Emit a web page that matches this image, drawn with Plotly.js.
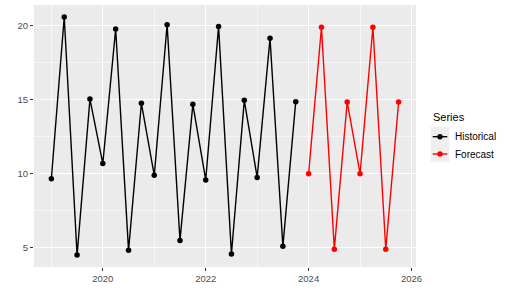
<!DOCTYPE html>
<html>
<head>
<meta charset="utf-8">
<script src="https://cdn.plot.ly/plotly-3.0.1.min.js"></script>
<style>html,body{margin:0;padding:0;background:#fff;}#chart{width:505px;height:300px;}</style>
</head>
<body>
<div id="chart"></div>
<script>
const histTime = [2019.0, 2019.25, 2019.5, 2019.75, 2020.0, 2020.25, 2020.5, 2020.75,
                  2021.0, 2021.25, 2021.5, 2021.75, 2022.0, 2022.25, 2022.5, 2022.75,
                  2023.0, 2023.25, 2023.5, 2023.75];
const histValues = [9.66, 20.59, 4.5, 15.05, 10.69, 19.78, 4.82, 14.76,
                    9.89, 20.07, 5.49, 14.69, 9.58, 19.96, 4.57, 14.96,
                    9.75, 19.15, 5.09, 14.87];
const fcTime = [2024.0, 2024.25, 2024.5, 2024.75, 2025.0, 2025.25, 2025.5, 2025.75];
const fcValues = [10.0, 19.9, 4.9, 14.85, 10.0, 19.9, 4.9, 14.85];
const seriesNames = ["Historical", "Forecast"];
const seriesColors = ["#000000", "#FF0000"];
const legendTitle = "Series";
const xTickVals = [2020, 2022, 2024, 2026];
const yTickVals = [5, 10, 15, 20];

const traces = [
  {x: histTime, y: histValues, name: seriesNames[0], type: 'scatter', mode: 'lines+markers',
   line: {color: seriesColors[0], width: 1.4}, marker: {color: seriesColors[0], size: 5.5}, showlegend: false},
  {x: fcTime, y: fcValues, name: seriesNames[1], type: 'scatter', mode: 'lines+markers',
   line: {color: seriesColors[1], width: 1.4}, marker: {color: seriesColors[1], size: 5.5}, showlegend: false}
];

const font = "Liberation Sans, Arial, sans-serif";

// legend (ggplot-style), placed in paper coordinates
const M = {l: 34, r: 89, t: 5, b: 33};
const PW = 505 - M.l - M.r, PH = 300 - M.t - M.b;
const px = v => (v - M.l) / PW;
const py = v => (300 - M.b - v) / PH;
const shapes = [
  {type: 'rect', xref: 'paper', yref: 'paper', x0: px(430.7), x1: px(449.3), y0: py(161.7), y1: py(126.7),
   fillcolor: '#efefef', line: {width: 0}, layer: 'above'}
];
const annotations = [
  {xref: 'paper', yref: 'paper', x: px(431), y: py(117.3), xanchor: 'left', yanchor: 'middle',
   text: legendTitle, showarrow: false, font: {family: font, size: 11, color: '#000000'}}
];
const itemY = [136.7, 154];
seriesNames.forEach((n, i) => {
  shapes.push({type: 'line', xref: 'paper', yref: 'paper', x0: px(432.7), x1: px(447.3), y0: py(itemY[i]), y1: py(itemY[i]),
    line: {color: seriesColors[i], width: 1.4}, layer: 'above'});
  shapes.push({type: 'circle', xref: 'paper', yref: 'paper', x0: px(437.3), x1: px(442.7), y0: py(itemY[i] + 2.7), y1: py(itemY[i] - 2.7),
    fillcolor: seriesColors[i], line: {width: 0}, layer: 'above'});
  annotations.push({xref: 'paper', yref: 'paper', x: px(452.5), y: py(itemY[i]), xanchor: 'left', yanchor: 'middle',
    text: n, showarrow: false, font: {family: font, size: 10, color: '#000000'}});
});

const layout = {
  width: 505, height: 300,
  margin: M,
  paper_bgcolor: '#ffffff',
  plot_bgcolor: '#ebebeb',
  font: {family: font, color: '#4d4d4d', size: 9.5},
  xaxis: {
    range: [2018.6625, 2026.0875],
    tickvals: xTickVals, ticktext: xTickVals.map(String),
    showgrid: true, gridcolor: '#ffffff', gridwidth: 1.1,
    zeroline: false, showline: false,
    ticks: 'outside', ticklen: 3, tickwidth: 1, tickcolor: '#333333',
    tickfont: {family: font, size: 9.5, color: '#4d4d4d'},
    minor: {tickvals: [2019, 2021, 2023, 2025], showgrid: true, gridcolor: '#ffffff', gridwidth: 0.55, ticks: ''}
  },
  yaxis: {
    range: [3.695, 21.405],
    tickvals: yTickVals, ticktext: yTickVals.map(String),
    showgrid: true, gridcolor: '#ffffff', gridwidth: 1.1,
    zeroline: false, showline: false,
    ticks: 'outside', ticklen: 3, tickwidth: 1, tickcolor: '#333333',
    tickfont: {family: font, size: 9.5, color: '#4d4d4d'},
    minor: {tickvals: [7.5, 12.5, 17.5], showgrid: true, gridcolor: '#ffffff', gridwidth: 0.55, ticks: ''}
  },
  showlegend: false,
  shapes: shapes,
  annotations: annotations
};

Plotly.newPlot('chart', traces, layout, {displayModeBar: false, staticPlot: true});
</script>
</body>
</html>
